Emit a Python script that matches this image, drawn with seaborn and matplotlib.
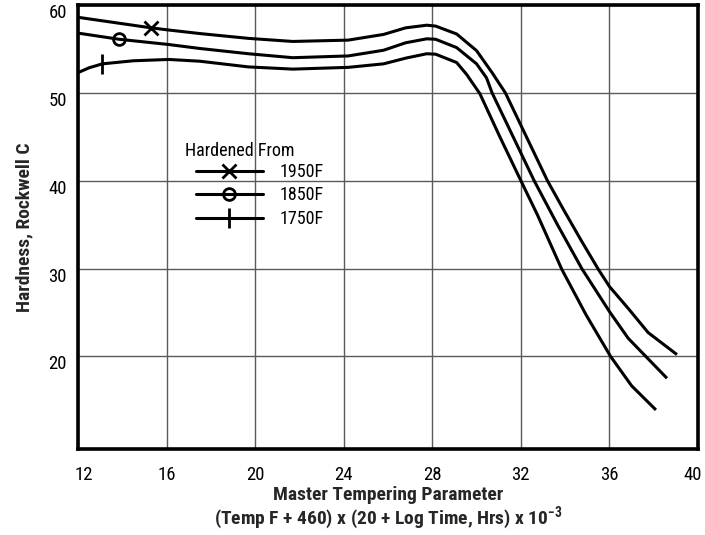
import matplotlib
matplotlib.use("Agg")
import matplotlib.pyplot as plt
from matplotlib import font_manager
from matplotlib.lines import Line2D
from matplotlib.transforms import ScaledTranslation
import seaborn as sns

# Hardness vs. master tempering parameter for three hardening temperatures
p_1950 = [12.0, 15.3, 16.1, 17.5, 19.7, 21.7, 24.2, 25.8, 26.8, 27.75, 28.15, 29.1,
          30.0, 30.7, 31.3, 33.2, 33.95, 34.7, 35.5, 36.0, 36.85, 37.75, 39.05]
h_1950 = [58.6, 57.4, 57.15, 56.75, 56.2, 55.85, 56.0, 56.65, 57.4, 57.7, 57.6, 56.7,
          54.8, 52.3, 50.0, 40.0, 36.6, 33.3, 29.9, 27.95, 25.45, 22.7, 20.2]

p_1850 = [12.0, 13.85, 16.1, 17.5, 19.7, 21.7, 24.2, 25.8, 26.8, 27.75, 28.15, 29.1,
          30.0, 30.45, 30.7, 31.65, 32.6, 33.65, 34.75, 36.0, 36.85, 38.6]
h_1850 = [56.8, 56.1, 55.5, 55.05, 54.45, 54.0, 54.2, 54.85, 55.7, 56.15, 56.1, 55.15,
          53.3, 51.7, 50.0, 45.0, 40.0, 35.0, 30.0, 25.1, 22.05, 17.5]

p_1750 = [12.0, 12.5, 13.1, 14.5, 16.1, 17.5, 19.7, 21.7, 24.2, 25.8, 26.8, 27.75, 28.15,
          29.1, 29.55, 30.15, 31.05, 32.0, 32.75, 33.85, 34.95, 36.05, 37.0, 38.1]
h_1750 = [52.3, 52.85, 53.3, 53.65, 53.8, 53.6, 52.95, 52.7, 52.9, 53.3, 53.95, 54.45, 54.4,
          53.45, 52.1, 49.9, 45.0, 40.0, 36.1, 29.9, 24.7, 20.0, 16.65, 13.9]

series_labels = ["1950F", "1850F", "1750F"]
series_markers = ["x", "o", "|"]
marker_points = [15.3, 13.85, 13.1]      # parameter value where each curve is tagged

x_ticks = [12, 16, 20, 24, 28, 32, 36, 40]
y_ticks = [20, 30, 40, 50, 60]


def pick_narrow_font():
    """Return (family, stretch) for the narrowest sans face that is installed."""
    fonts = font_manager.fontManager.ttflist
    names = {f.name for f in fonts}
    for name in ["Liberation Sans Narrow", "Roboto Condensed", "Arial Narrow",
                 "Open Sans Condensed", "Noto Sans Condensed", "Noto Sans SemiCondensed",
                 "DejaVu Sans Condensed"]:
        if name in names:
            return name, "normal"
    for fam in ["Roboto", "Noto Sans", "Open Sans", "DejaVu Sans"]:
        for f in fonts:
            st = f.stretch
            if f.name == fam and (st in ("condensed", "semi-condensed", "extra-condensed")
                                  or (isinstance(st, int) and st < 500)):
                return fam, "condensed"
    return "Roboto", "normal"


sns.set_theme(style="white")
FAMILY, STRETCH = pick_narrow_font()
plt.rcParams["font.family"] = [FAMILY, "DejaVu Sans"]
plt.rcParams["font.stretch"] = STRETCH
plt.rcParams["text.color"] = "black"
plt.rcParams["mathtext.fontset"] = "custom"
plt.rcParams["mathtext.rm"] = f"{FAMILY}:stretch={STRETCH}"
plt.rcParams["mathtext.bf"] = f"{FAMILY}:weight=bold:stretch={STRETCH}"

FS_TICK = 13.5
FS_KEY = 13
FS_XLAB = 14
FS_YLAB = 14

fig = plt.figure(figsize=(7.05, 5.35), dpi=100)
ax = fig.add_axes([78 / 705, 86 / 535, 620 / 705, 444 / 535])

curve_lw = 2.2
marker_sizes = {"x": 10, "o": 8.5, "|": 15}
for px, hx, mk, mp in zip([p_1950, p_1850, p_1750], [h_1950, h_1850, h_1750],
                          series_markers, marker_points):
    sns.lineplot(x=px, y=hx, ax=ax, color="black", lw=curve_lw, sort=False,
                 marker=mk, markevery=[px.index(mp)], markersize=marker_sizes[mk],
                 markerfacecolor="none", markeredgecolor="black", markeredgewidth=2,
                 solid_joinstyle="round", solid_capstyle="butt")

ax.set_xlim(12, 40)
ax.set_ylim(9.45, 60)
ax.set_xticks(x_ticks)
ax.set_yticks(y_ticks)
ax.grid(True, color="#5a5a5a", lw=1.0)
for s in ax.spines.values():
    s.set_visible(True)
    s.set_color("black")
    s.set_linewidth(2.6)

ax.tick_params(axis="both", length=0, labelsize=FS_TICK, colors="black")
ax.tick_params(axis="x", pad=12)
ax.tick_params(axis="y", pad=8)
xlabels = ax.get_xticklabels()
for t, dx in ((xlabels[0], 6), (xlabels[-1], -5)):
    t.set_transform(t.get_transform() + ScaledTranslation(dx / 100, 0, fig.dpi_scale_trans))
for t in ax.get_yticklabels():
    t.set_transform(t.get_transform() + ScaledTranslation(0, -6 / 100, fig.dpi_scale_trans))

ax.set_ylabel("Hardness, Rockwell C", fontsize=FS_YLAB, fontweight="bold", labelpad=11)
ax.set_xlabel("Master Tempering Parameter\n"
              "(Temp F + 460) x (20 + Log Time, Hrs) x 10$^{\\mathbf{-3}}$",
              fontsize=FS_XLAB, fontweight="bold", labelpad=2, linespacing=1.0)

# key: heading plus one sample line per hardening temperature
ax.text(185 / 705, 1 - 151 / 535, "Hardened From", transform=fig.transFigure,
        fontsize=FS_KEY, va="center", ha="left")
handles = [Line2D([], [], color="black", lw=curve_lw, marker=mk,
                  markersize=marker_sizes[mk], markerfacecolor="none",
                  markeredgecolor="black", markeredgewidth=2)
           for mk in series_markers]
leg = ax.legend(handles, series_labels, frameon=False,
                loc="upper left", bbox_to_anchor=(196 / 705, 1 - 163 / 535),
                bbox_transform=fig.transFigure, fontsize=FS_KEY,
                handlelength=3.7, handletextpad=0.95, labelspacing=0.3,
                borderpad=0, borderaxespad=0)

fig.savefig("out.png", dpi=100)
